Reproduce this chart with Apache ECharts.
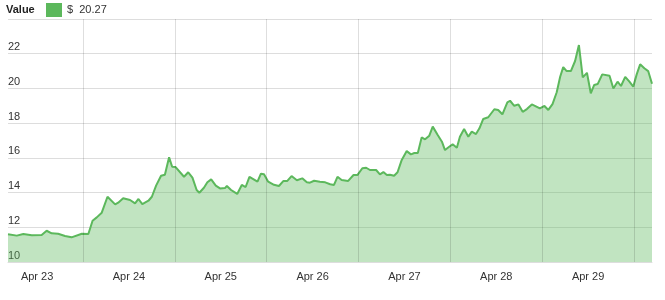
<!DOCTYPE html>
<html>
<head>
<meta charset="utf-8">
<script src="https://cdn.jsdelivr.net/npm/echarts@6/dist/echarts.min.js"></script>
<style>html,body{margin:0;padding:0;background:#fff;}#c{width:665px;height:300px;}</style>
</head>
<body>
<div id="c"></div>
<script>
// hours since Apr 23 00:00
var hours = [4.4,6.7,8.4,10.6,13.2,14.5,15.8,17.5,19.3,21.0,23.7,25.4,26.5,27.6,28.9,30.4,32.4,33.2,34.5,36.3,
37.6,38.5,39.5,41.1,42.0,43.1,44.4,45.4,46.5,47.3,48.2,50.4,51.5,52.6,53.7,54.4,55.6,56.5,57.5,58.7,59.8,61.1,61.6,62.7,64.3,65.5,66.5,67.5,69.6,70.5,
71.3,72.4,73.9,75.2,76.4,77.4,78.5,79.9,81.3,82.5,83.3,84.4,85.9,87.3,88.6,89.6,90.5,91.6,93.3,94.7,95.7,97.0,98.0,99.0,100.6,101.6,102.5,103.4,
104.2,105.3,106.2,107.3,108.6,109.7,110.6,111.5,112.5,113.4,114.5,115.4,116.7,117.8,118.6,119.7,120.6,121.7,122.5,123.6,124.7,125.6,126.7,127.6,128.6,129.9,131.5,132.5,133.6,134.9,135.6,136.7,137.8,
138.9,140.0,141.3,142.1,143.4,144.6,145.6,146.7,147.8,148.7,149.5,150.4,151.5,152.6,153.6,154.6,155.7,156.7,157.6,158.5,159.7,161.6,162.6,163.7,164.6,165.7,166.8,167.8,168.7,169.6,170.7,171.7,172.7];
var values = [11.6,11.52,11.61,11.54,11.56,11.8,11.65,11.63,11.5,11.42,11.63,11.61,12.38,12.57,12.84,13.76,13.32,13.42,13.67,13.57,
13.38,13.63,13.34,13.53,13.76,14.4,14.97,15.03,16.03,15.49,15.47,14.91,15.17,14.86,14.15,13.99,14.28,14.59,14.76,14.4,14.24,14.26,14.38,14.15,13.92,14.44,14.32,14.91,14.63,15.09,
15.05,14.63,14.45,14.38,14.67,14.67,14.95,14.71,14.82,14.59,14.57,14.68,14.63,14.59,14.48,14.44,14.91,14.72,14.67,15.01,15.01,15.4,15.43,15.3,15.3,15.05,15.18,15.01,
15.03,14.97,15.17,15.88,16.39,16.2,16.28,16.28,17.18,17.07,17.28,17.8,17.32,16.93,16.45,16.64,16.78,16.58,17.22,17.66,17.22,17.51,17.37,17.7,18.24,18.34,18.8,18.76,18.51,19.2,19.29,19.0,19.08,
18.65,18.81,19.08,19.0,18.85,18.99,18.76,19.1,19.78,20.67,21.23,21.0,21.0,21.58,22.5,20.64,20.9,19.72,20.2,20.25,20.81,20.73,20.0,20.39,20.14,20.67,20.39,20.1,20.81,21.39,21.16,21.0,20.27];
var dayLabels = ['Apr 23','Apr 24','Apr 25','Apr 26','Apr 27','Apr 28','Apr 29'];
var dayBoundaries = [24,48,72,96,120,144,168];
var labelHours = [12,36,60,84,108,132,156];

var data = hours.map(function(h,i){return [h, values[i]];});
var FONT = 'Liberation Sans, Arial, sans-serif';
var chart = echarts.init(document.getElementById('c'), null, {renderer:'canvas'});
chart.setOption({
  animation: false,
  textStyle: {fontFamily: FONT},
  title: {text: 'Value', left: 6, top: 4, padding: 0,
    textStyle: {fontSize: 11, fontWeight: 'bold', color: '#222', fontFamily: FONT}},
  legend: {left: 46, top: 3, padding: 0, icon: 'rect', itemWidth: 16, itemHeight: 14,
    textStyle: {fontSize: 11, color: '#333', fontFamily: FONT},
    formatter: function(){ return '$  ' + values[values.length-1].toFixed(2); }},
  grid: {left: 8, right: 13, top: 19, bottom: 38, containLabel: false},
  xAxis: {type: 'value', min: 4.4, max: 172.7,
    axisLine: {show: true, lineStyle: {color: '#ddd'}},
    axisTick: {show: false},
    splitLine: {show: false},
    axisLabel: {customValues: labelHours, margin: 9, fontSize: 11, color: '#333', fontFamily: FONT,
      formatter: function(v){ var i = labelHours.indexOf(v); return i >= 0 ? dayLabels[i] : ''; }}
  },
  yAxis: {type: 'value', min: 10, max: 24, interval: 2,
    axisLine: {show: false}, axisTick: {show: false},
    splitLine: {show: true, lineStyle: {color: '#ddd', width: 1}},
    axisLabel: {inside: true, margin: 0, showMaxLabel: false, verticalAlign: 'bottom',
      fontSize: 11, color: '#333', fontFamily: FONT, padding: [0,0,1,0]}
  },
  series: [{
    name: 'Value', type: 'line', data: data, showSymbol: false, smooth: false,
    itemStyle: {color: '#5cb85c'},
    lineStyle: {color: '#5cb85c', width: 2},
    areaStyle: {color: '#5cb85c', opacity: 0.38},
    markLine: {silent: true, symbol: ['none','none'], label: {show: false},
      lineStyle: {color: 'rgba(0,0,0,0.13)', type: 'solid', width: 1},
      data: dayBoundaries.map(function(h){ return {xAxis: h}; })}
  }]
});
</script>
</body>
</html>
